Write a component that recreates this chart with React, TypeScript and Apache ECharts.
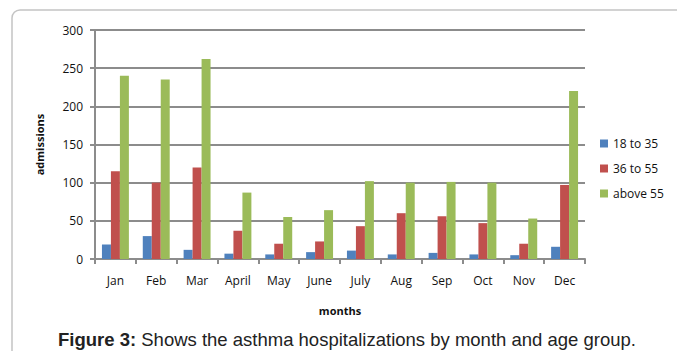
import React, { useEffect, useRef } from "react";
import * as echarts from "echarts";

const months = ["Jan", "Feb", "Mar", "April", "May", "June", "July", "Aug", "Sep", "Oct", "Nov", "Dec"];
const age18to35 = [19, 30, 12, 7, 6, 9, 11, 6, 8, 6, 5, 16];
const age36to55 = [115, 100, 120, 37, 20, 23, 43, 60, 56, 47, 20, 97];
const above55 = [240, 235, 262, 87, 55, 64, 102, 100, 101, 100, 53, 220];
const seriesNames = ["18 to 35", "36 to 55", "above 55"];
const seriesColors = ["#4F81BD", "#C0504D", "#9BBB59"];
const yTicks = { min: 0, max: 300, interval: 50 };

const labelFont = "'Open Sans', 'DejaVu Sans', sans-serif";
const captionFont = "'Liberation Sans', Arial, sans-serif";
const gridGray = "#8c8c8c";

export default function App() {
  const ref = useRef<HTMLDivElement>(null);

  useEffect(() => {
    if (!ref.current) return;
    const chart = echarts.init(ref.current, undefined, { renderer: "svg" });
    const values = [age18to35, age36to55, above55];
    chart.setOption({
      animation: false,
      backgroundColor: "#ffffff",
      textStyle: { fontFamily: labelFont },
      grid: { left: 95, right: 92, top: 30, bottom: 92 },
      legend: {
        orient: "vertical",
        left: 595,
        top: 130,
        itemWidth: 8,
        itemHeight: 8,
        itemGap: 8,
        icon: "rect",
        textStyle: { fontSize: 12, color: "#111", fontFamily: labelFont, lineHeight: 17 },
        data: seriesNames,
      },
      xAxis: {
        type: "category",
        data: months,
        name: "months",
        nameLocation: "middle",
        nameGap: 46,
        nameTextStyle: { fontSize: 11, fontWeight: "bold", color: "#111", fontFamily: labelFont },
        axisLine: { lineStyle: { color: gridGray, width: 2 } },
        axisTick: { show: true, length: 5, lineStyle: { color: gridGray, width: 2 } },
        axisLabel: { fontSize: 12, color: "#111", margin: 15 },
      },
      yAxis: {
        type: "value",
        min: yTicks.min,
        max: yTicks.max,
        interval: yTicks.interval,
        name: "admissions",
        nameLocation: "middle",
        nameGap: 50,
        nameRotate: 90,
        nameTextStyle: { fontSize: 11, fontWeight: "bold", color: "#111", fontFamily: labelFont },
        axisLine: { show: true, lineStyle: { color: gridGray, width: 2 } },
        axisTick: { show: true, length: 5, lineStyle: { color: gridGray, width: 2 } },
        axisLabel: { fontSize: 12, color: "#111", margin: 12 },
        splitLine: { lineStyle: { color: gridGray, width: 2 } },
      },
      series: seriesNames.map((name, i) => ({
        name,
        type: "bar",
        data: values[i],
        barGap: "0%",
        barCategoryGap: "34%",
        itemStyle: { color: seriesColors[i] },
      })),
      title: {
        text: "{b|Figure 3:} Shows the asthma hospitalizations by month and age group.",
        left: 58,
        top: 329,
        padding: 0,
        textStyle: {
          fontFamily: captionFont,
          fontSize: 18.5,
          lineHeight: 20,
          fontWeight: "normal",
          color: "#222",
          rich: {
            b: {
              fontFamily: captionFont,
              fontSize: 18.5,
              lineHeight: 20,
              fontWeight: "bold",
              color: "#222",
            },
          },
        },
      },
      graphic: [
        {
          type: "rect",
          shape: { x: 12, y: 10, width: 720, height: 420, r: 8 },
          style: { fill: "none", stroke: "#c4c4c4", lineWidth: 1.5 },
          silent: true,
          z: -1,
        },
      ],
    });
    return () => chart.dispose();
  }, []);

  return (
    <div
      ref={ref}
      style={{ position: "absolute", left: 0, top: 0, width: 677, height: 351 }}
    />
  );
}
